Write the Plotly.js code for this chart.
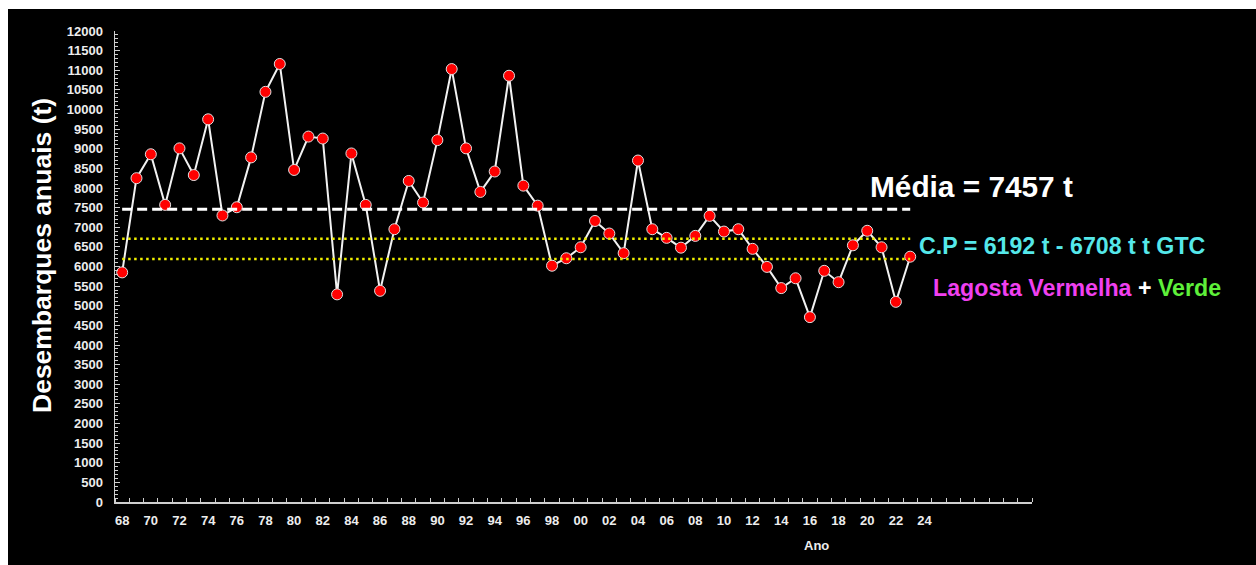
<!DOCTYPE html>
<html>
<head>
<meta charset="utf-8">
<script src="https://cdn.plot.ly/plotly-3.0.1.min.js"></script>
<style>
  html, body { margin: 0; padding: 0; background: #ffffff; width: 1256px; height: 565px; overflow: hidden; }
  #chart { position: absolute; left: 8px; top: 9px; width: 1248px; height: 556px; }
</style>
</head>
<body>
<div id="chart"></div>
<script>
// ---- Data ----
const years = [1968,1969,1970,1971,1972,1973,1974,1975,1976,1977,1978,1979,1980,1981,1982,1983,1984,1985,1986,1987,1988,1989,1990,1991,1992,1993,1994,1995,1996,1997,1998,1999,2000,2001,2002,2003,2004,2005,2006,2007,2008,2009,2010,2011,2012,2013,2014,2015,2016,2017,2018,2019,2020,2021,2022,2023];
const landings = [5850,8250,8860,7570,9010,8330,9750,7300,7510,8780,10450,11160,8460,9310,9260,5290,8880,7570,5380,6950,8180,7630,9220,11030,9010,7900,8420,10860,8060,7550,6020,6210,6490,7160,6840,6340,8700,6950,6730,6480,6780,7290,6890,6950,6450,5990,5450,5700,4710,5890,5600,6540,6910,6490,5100,6250];
const MEAN = 7457;
const CP_LOW = 6192;
const CP_HIGH = 6708;
const xTickVals = [1968,1970,1972,1974,1976,1978,1980,1982,1984,1986,1988,1990,1992,1994,1996,1998,2000,2002,2004,2006,2008,2010,2012,2014,2016,2018,2020,2022,2024];
const xTickLabels = ["68","70","72","74","76","78","80","82","84","86","88","90","92","94","96","98","00","02","04","06","08","10","12","14","16","18","20","22","24"];
const yTitle = "Desembarques anuais (t)";
const xTitle = "Ano";
const meanLabel = "Média = 7457 t";
const cpLabel = "C.P = 6192 t - 6708 t t GTC";

const FONT = "Liberation Sans, Arial, sans-serif";
const x0 = years[0], x1 = years[years.length - 1];

const traces = [
  {
    x: years, y: landings, type: "scatter", mode: "lines+markers",
    line: { color: "#f2f2f2", width: 2 },
    marker: { color: "#ff0000", size: 11, line: { color: "#e0e0e0", width: 1 } },
    hoverinfo: "x+y", showlegend: false
  },
  {
    x: [x0, x1], y: [MEAN, MEAN], type: "scatter", mode: "lines",
    line: { color: "#ffffff", width: 3, dash: "10px,5px" }, showlegend: false
  },
  {
    x: [x0, x1], y: [CP_HIGH, CP_HIGH], type: "scatter", mode: "lines",
    line: { color: "#f0f000", width: 2.5, dash: "2.5px,3.5px" }, showlegend: false
  },
  {
    x: [x0, x1], y: [CP_LOW, CP_LOW], type: "scatter", mode: "lines",
    line: { color: "#f0f000", width: 2.5, dash: "2.5px,3.5px" }, showlegend: false
  }
];

const layout = {
  width: 1248, height: 556,
  paper_bgcolor: "#000000", plot_bgcolor: "#000000",
  margin: { l: 107, r: 224, t: 22, b: 63 },
  font: { family: FONT, color: "#ededed" },
  showlegend: false,
  xaxis: {
    range: [1967.5, 2031.5],
    tickmode: "array", tickvals: xTickVals, ticktext: xTickLabels,
    ticks: "", showgrid: false, zeroline: false,
    showline: true, linecolor: "#cfcfcf", linewidth: 1.5,
    tickfont: { family: FONT, size: 13, color: "#ededed", weight: "bold" },
    ticklabelstandoff: 6,
    minor: { tickmode: "linear", tick0: 1967.5, dtick: 1, ticks: "inside", ticklen: 4, tickcolor: "#cfcfcf", tickwidth: 1, showgrid: false }
  },
  yaxis: {
    range: [0, 12000], tickmode: "linear", tick0: 0, dtick: 500, tickformat: "d",
    ticks: "inside", ticklen: 5, tickcolor: "#cfcfcf", tickwidth: 1,
    showgrid: false, zeroline: false,
    showline: true, linecolor: "#cfcfcf", linewidth: 1.5,
    tickfont: { family: FONT, size: 13, color: "#ededed", weight: "bold" },
    ticklabelstandoff: 8,
    minor: { dtick: 100, ticks: "inside", ticklen: 3, tickcolor: "#cfcfcf", tickwidth: 1, showgrid: false }
  },
  annotations: [
    { xref: "paper", yref: "paper", x: (42 - 115) / 917, y: (502 - 256) / 471, xanchor: "center", yanchor: "middle",
      textangle: -90, text: yTitle, showarrow: false, font: { family: FONT, size: 26.5, color: "#ffffff", weight: "bold" } },
    { xref: "paper", yref: "paper", x: (816 - 115) / 917, y: (502 - 545) / 471, xanchor: "center", yanchor: "middle",
      text: xTitle, showarrow: false, font: { family: FONT, size: 13, color: "#ededed", weight: "bold" } },
    { xref: "paper", yref: "paper", x: (868 - 115) / 917, y: (502 - 186) / 471, xanchor: "left", yanchor: "middle",
      text: meanLabel, showarrow: false, font: { family: FONT, size: 29.8, color: "#ffffff", weight: "bold" } },
    { xref: "paper", yref: "paper", x: (917 - 115) / 917, y: (502 - 246) / 471, xanchor: "left", yanchor: "middle",
      text: cpLabel, showarrow: false, font: { family: FONT, size: 23.2, color: "#55e8ea", weight: "bold" } },
    { xref: "paper", yref: "paper", x: (931 - 115) / 917, y: (502 - 288) / 471, xanchor: "left", yanchor: "middle",
      text: '<span style="color:#f040f0">Lagosta Vermelha</span> <span style="color:#ffffff">+</span> <span style="color:#5ef03a">Verde</span>',
      showarrow: false, font: { family: FONT, size: 23.2, color: "#ffffff", weight: "bold" } }
  ]
};

Plotly.newPlot("chart", traces, layout, { displayModeBar: false, staticPlot: true });
</script>
</body>
</html>
